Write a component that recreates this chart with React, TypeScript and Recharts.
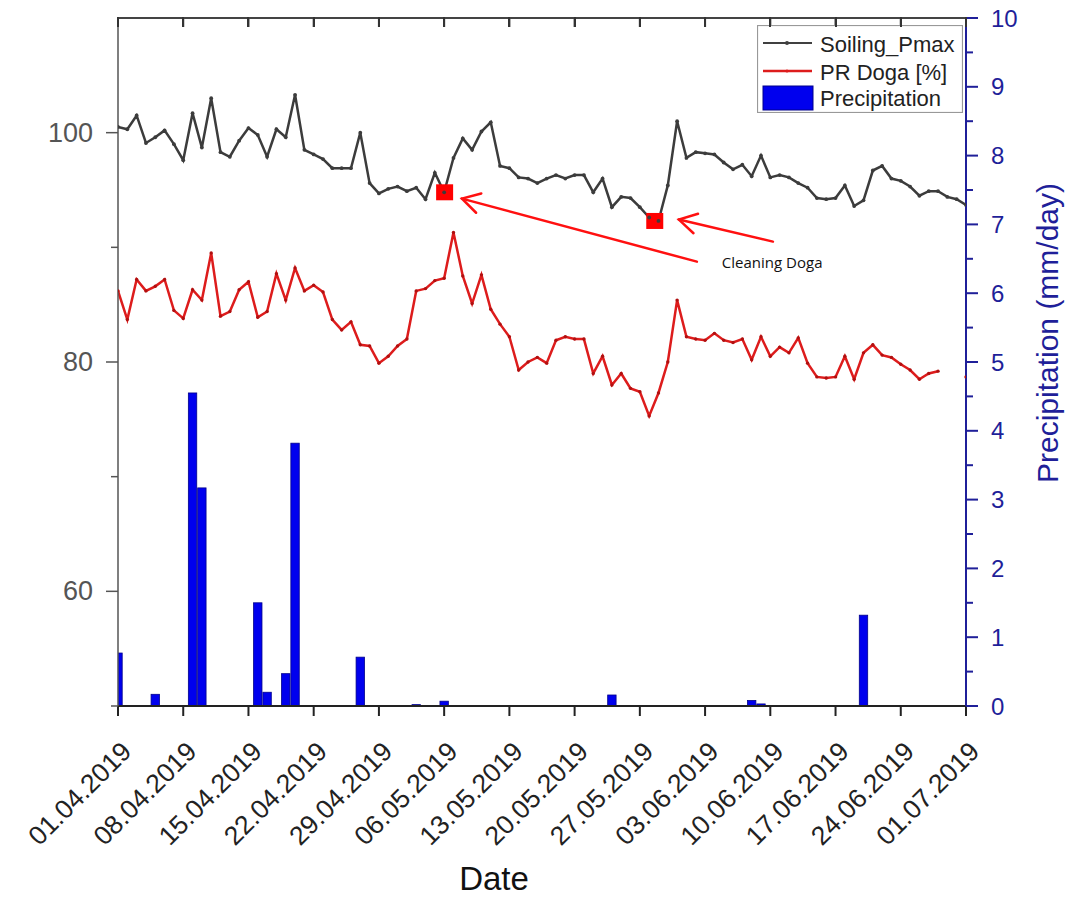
import React from "react";
import {
  ComposedChart,
  Line,
  Bar,
  Scatter,
  XAxis,
  YAxis,
  Legend,
  ReferenceLine,
  ReferenceDot,
} from "recharts";

// day index 0 = 01.04.2019 ... 91 = 01.07.2019
const soilingPmax = [
  100.5, 100.3, 101.5, 99.1, 99.6, 100.2, 99.0, 97.6, 101.7, 98.7, 103.0, 98.3, 97.9, 99.3, 100.4, 99.8,
  97.9, 100.3, 99.6, 103.3, 98.5, 98.1, 97.7, 96.9, 96.9, 96.9, 100.0, 95.6, 94.7, 95.1, 95.3, 94.9,
  95.2, 94.2, 96.5, 94.8, 97.8, 99.5, 98.5, 100.1, 100.9, 97.1, 96.9, 96.1, 96.0, 95.6, 96.0, 96.3,
  96.0, 96.3, 96.3, 94.8, 96.0, 93.5, 94.4, 94.3, 93.5, 92.6, 92.3, 95.4, 101.0, 97.8, 98.3, 98.2,
  98.1, 97.4, 96.8, 97.2, 96.2, 98.0, 96.1, 96.3, 96.1, 95.6, 95.2, 94.3, 94.2, 94.3, 95.4, 93.6,
  94.1, 96.7, 97.1, 96.0, 95.8, 95.3, 94.5, 94.9, 94.9, 94.4, 94.2, 93.7,
];

const prDoga: (number | null)[] = [
  86.2, 83.7, 87.2, 86.2, 86.6, 87.2, 84.5, 83.8, 86.3, 85.4, 89.5, 84.0, 84.4, 86.3, 87.0, 83.9,
  84.4, 87.7, 85.4, 88.2, 86.2, 86.7, 86.1, 83.7, 82.8, 83.5, 81.5, 81.4, 79.9, 80.5, 81.4, 82.0,
  86.2, 86.4, 87.1, 87.3, 91.3, 87.5, 85.1, 87.6, 84.6, 83.3, 82.2, 79.3, 80.0, 80.4, 79.9, 81.9,
  82.2, 82.0, 82.0, 79.0, 80.5, 78.0, 79.0, 77.7, 77.4, 75.3, 77.3, 80.0, 85.4, 82.2, 82.0, 81.9,
  82.5, 81.9, 81.7, 82.0, 80.2, 82.2, 80.5, 81.3, 80.8, 82.1, 79.9, 78.7, 78.6, 78.7, 80.5, 78.5,
  80.8, 81.5, 80.6, 80.4, 79.8, 79.3, 78.5, 79.0, 79.2, null, null, 78.7,
];

const precipitation = [
  0.77, 0, 0, 0, 0.17, 0, 0, 0, 4.55, 3.17, 0, 0, 0, 0, 0, 1.5,
  0.2, 0, 0.47, 3.82, 0, 0, 0, 0, 0, 0, 0.71, 0, 0, 0, 0, 0,
  0.02, 0, 0, 0.07, 0, 0, 0, 0, 0, 0, 0, 0, 0, 0, 0, 0,
  0, 0, 0, 0, 0, 0.16, 0, 0, 0, 0, 0, 0, 0, 0, 0, 0,
  0, 0, 0, 0, 0.08, 0.03, 0, 0, 0, 0, 0, 0, 0, 0, 0, 0,
  1.32, 0, 0, 0, 0, 0, 0, 0, 0, 0, 0, 0,
];

const dateTicks = [0, 7, 14, 21, 28, 35, 42, 49, 56, 63, 70, 77, 84, 91];
const dateLabels = [
  "01.04.2019", "08.04.2019", "15.04.2019", "22.04.2019", "29.04.2019", "06.05.2019", "13.05.2019",
  "20.05.2019", "27.05.2019", "03.06.2019", "10.06.2019", "17.06.2019", "24.06.2019", "01.07.2019",
];
const leftTicks = [50, 60, 70, 80, 90, 100, 110];
const rightTicks = [0, 0.5, 1, 1.5, 2, 2.5, 3, 3.5, 4, 4.5, 5, 5.5, 6, 6.5, 7, 7.5, 8, 8.5, 9, 9.5, 10];

const cleaningPoints = [
  { day: 35.05, v: 94.8 },
  { day: 57.6, v: 92.3 },
];

const data = soilingPmax.map((s, i) => ({
  day: i,
  soiling: s,
  pr: prDoga[i],
  precip: precipitation[i],
}));

const FONT = "'Liberation Sans', Arial, sans-serif";
const NAVY = "#1f1f99";
const CHART_W = 1089;
const MARGIN = { top: 18, right: 23, bottom: 3, left: 58 };
const LEFT_AXIS_W = 60;
const RIGHT_AXIS_W = 100;
const PLOT_LEFT = MARGIN.left + LEFT_AXIS_W;
const PLOT_W = CHART_W - MARGIN.left - MARGIN.right - LEFT_AXIS_W - RIGHT_AXIS_W;
const DAY_SPAN = 91;

const LeftTick = (props: any) => {
  const { x, y, payload } = props;
  const v = payload.value;
  if (v === 110) {
    // top frame of the plot, with inward ticks at the date ticks
    return (
      <g>
        <line x1={x} x2={x + PLOT_W} y1={y} y2={y} stroke="#444" strokeWidth={2} />
        {dateTicks.map((d) => {
          const tx = x + (d * PLOT_W) / DAY_SPAN;
          return <line key={d} x1={tx} x2={tx} y1={y} y2={y + 9} stroke="#333" strokeWidth={2} />;
        })}
      </g>
    );
  }
  const major = v % 20 === 0;
  return (
    <g>
      <line x1={x} x2={x - (major ? 12 : 7)} y1={y} y2={y} stroke="#555" strokeWidth={1.5} />
      {major && (
        <text x={x - 25} y={y} textAnchor="end" dominantBaseline="central" fontSize={27} fill="#555" fontFamily={FONT}>
          {v}
        </text>
      )}
    </g>
  );
};

const RightTick = (props: any) => {
  const { x, y, payload } = props;
  const v = payload.value;
  const major = Number.isInteger(v);
  return (
    <g>
      <line x1={x} x2={x + (major ? 12 : 7)} y1={y} y2={y} stroke={NAVY} strokeWidth={2} />
      {major && (
        <text x={x + 25} y={y} textAnchor="start" dominantBaseline="central" fontSize={24} fill={NAVY} fontFamily={FONT}>
          {v}
        </text>
      )}
    </g>
  );
};

const BottomTick = (props: any) => {
  const { x, y, payload } = props;
  const label = dateLabels[dateTicks.indexOf(payload.value)];
  const ax = x + 15;
  const ay = y + 47;
  return (
    <g>
      <line x1={x} x2={x} y1={y} y2={y + 10} stroke="#222" strokeWidth={2} />
      <text x={ax} y={ay} transform={`rotate(-45, ${ax}, ${ay})`} textAnchor="end" fontSize={26.5} fill="#222" fontFamily={FONT}>
        {label}
      </text>
    </g>
  );
};

const PrecipBar = (props: any) => {
  const { x, y, width, height } = props;
  if (!height || height <= 0) return null;
  const cx = x + width / 2;
  return <rect x={cx - 4.2} y={y} width={8.4} height={height} fill="#0000ee" stroke="#00008b" strokeWidth={0.8} />;
};

const Arrow = (props: any) => {
  const { x1, y1, x2, y2 } = props;
  const ang = Math.atan2(y1 - y2, x1 - x2);
  const len = 20;
  const w1x = x2 + len * Math.cos(ang - Math.PI / 6);
  const w1y = y2 + len * Math.sin(ang - Math.PI / 6);
  const w2x = x2 + len * Math.cos(ang + Math.PI / 6);
  const w2y = y2 + len * Math.sin(ang + Math.PI / 6);
  return (
    <g stroke="#ff1010" strokeWidth={2.5} fill="none" strokeLinecap="round">
      <line x1={x1} y1={y1} x2={x2} y2={y2} />
      <polyline points={`${w1x},${w1y} ${x2},${y2} ${w2x},${w2y}`} />
    </g>
  );
};

const CleaningSquare = (props: any) => {
  const { cx, cy } = props;
  return <rect x={cx - 8.5} y={cy - 8} width={17} height={16} fill="#ff0000" />;
};

const LegendBox = () => (
  <svg width={206} height={88} style={{ display: "block" }}>
    <rect x={0.5} y={0.5} width={205} height={87} fill="#fff" stroke="#999" strokeWidth={1.2} />
    <line x1={6} x2={55} y1={18} y2={18} stroke="#404040" strokeWidth={2} />
    <circle cx={30} cy={18} r={2} fill="#404040" />
    <text x={63} y={19} dominantBaseline="central" fontSize={22} fill="#222" fontFamily={FONT}>Soiling_Pmax</text>
    <line x1={6} x2={55} y1={46} y2={46} stroke="#dd1c1c" strokeWidth={2.5} />
    <circle cx={30} cy={46} r={1.5} fill="#dd1c1c" />
    <text x={63} y={47} dominantBaseline="central" fontSize={22} fill="#222" fontFamily={FONT}>PR Doga [%]</text>
    <rect x={6} y={61} width={50} height={24} fill="#0000ee" stroke="#00008b" strokeWidth={1} />
    <text x={63} y={73} dominantBaseline="central" fontSize={22} fill="#222" fontFamily={FONT}>Precipitation</text>
  </svg>
);

// plain overlay for the top border of the plot frame
const TopFrame = () => (
  <div style={{ position: "absolute", left: PLOT_LEFT, top: MARGIN.top - 1, width: PLOT_W, height: 12, pointerEvents: "none" }}>
    <div style={{ position: "absolute", left: 0, top: 0, width: PLOT_W, height: 2, background: "#444" }} />
    {dateTicks.map((d) => (
      <div
        key={d}
        style={{ position: "absolute", left: (d * PLOT_W) / DAY_SPAN - 1, top: 0, width: 2, height: 10, background: "#333" }}
      />
    ))}
  </div>
);

export default function App() {
  return (
    <div style={{ position: "relative", width: 1089, height: 899, margin: "-8px 0 0 -8px", fontFamily: FONT }}>
      <ComposedChart width={CHART_W} height={899} data={data} margin={MARGIN}>
        <XAxis
          xAxisId="bottom"
          dataKey="day"
          type="number"
          domain={[0, DAY_SPAN]}
          ticks={dateTicks}
          interval={0}
          allowDataOverflow
          height={190}
          tickSize={0}
          tickMargin={0}
          tickLine={false}
          axisLine={{ stroke: "#222", strokeWidth: 2 }}
          tick={<BottomTick />}
          label={{
            content: () => (
              <text x={494} y={890} textAnchor="middle" fontSize={33} fill="#111" fontFamily={FONT}>
                Date
              </text>
            ),
          }}
        />
        <YAxis
          yAxisId="left"
          orientation="left"
          domain={[50, 110]}
          ticks={leftTicks}
          interval={0}
          allowDataOverflow
          width={LEFT_AXIS_W}
          tickSize={0}
          tickMargin={0}
          tickLine={false}
          axisLine={{ stroke: "#555", strokeWidth: 1.5 }}
          tick={<LeftTick />}
        />
        <YAxis
          yAxisId="right"
          orientation="right"
          domain={[0, 10]}
          ticks={rightTicks}
          interval={0}
          allowDataOverflow
          width={RIGHT_AXIS_W}
          tickSize={0}
          tickMargin={0}
          tickLine={false}
          axisLine={{ stroke: NAVY, strokeWidth: 2 }}
          tick={<RightTick />}
          label={{
            content: () => (
              <text
                x={1047}
                y={333}
                transform="rotate(-90, 1047, 333)"
                textAnchor="middle"
                dominantBaseline="central"
                fontSize={30}
                fill={NAVY}
                fontFamily={FONT}
              >
                Precipitation (mm/day)
              </text>
            ),
          }}
        />
        <Legend
          layout="vertical"
          align="center"
          verticalAlign="middle"
          content={() => <LegendBox />}
          wrapperStyle={{ position: "absolute", left: 757, top: 25, width: 206, height: 88 }}
        />
        <Bar
          xAxisId="bottom"
          yAxisId="right"
          dataKey="precip"
          name="Precipitation"
          fill="#0000ee"
          shape={<PrecipBar />}
          isAnimationActive={false}
        />
        <Line
          xAxisId="bottom"
          yAxisId="left"
          dataKey="soiling"
          name="Soiling_Pmax"
          stroke="#3c3c3c"
          strokeWidth={2.5}
          dot={{ r: 1.9, fill: "#3c3c3c", stroke: "none" }}
          isAnimationActive={false}
        />
        <Line
          xAxisId="bottom"
          yAxisId="left"
          dataKey="pr"
          name="PR Doga [%]"
          stroke="#dd1c1c"
          strokeWidth={2.5}
          dot={{ r: 1.7, fill: "#b01010", stroke: "none" }}
          connectNulls={false}
          isAnimationActive={false}
        />
        <Scatter
          xAxisId="bottom"
          yAxisId="left"
          data={cleaningPoints}
          dataKey="v"
          shape={<CleaningSquare />}
          legendType="none"
          isAnimationActive={false}
        />
        <ReferenceLine
          xAxisId="bottom"
          yAxisId="left"
          segment={[{ x: 62.12, y: 88.75 }, { x: 36.91, y: 94.25 }]}
          shape={<Arrow />}
        />
        <ReferenceLine
          xAxisId="bottom"
          yAxisId="left"
          segment={[{ x: 70.28, y: 90.5 }, { x: 60.19, y: 92.42 }]}
          shape={<Arrow />}
        />
        <ReferenceDot
          xAxisId="bottom"
          yAxisId="left"
          x={70.2}
          y={88.7}
          r={1}
          fill="none"
          stroke="none"
          label={{ value: "Cleaning Doga", position: "center", fontSize: 15, fill: "#111", fontFamily: "'Open Sans', sans-serif" }}
        />
      </ComposedChart>
      <TopFrame />
    </div>
  );
}
